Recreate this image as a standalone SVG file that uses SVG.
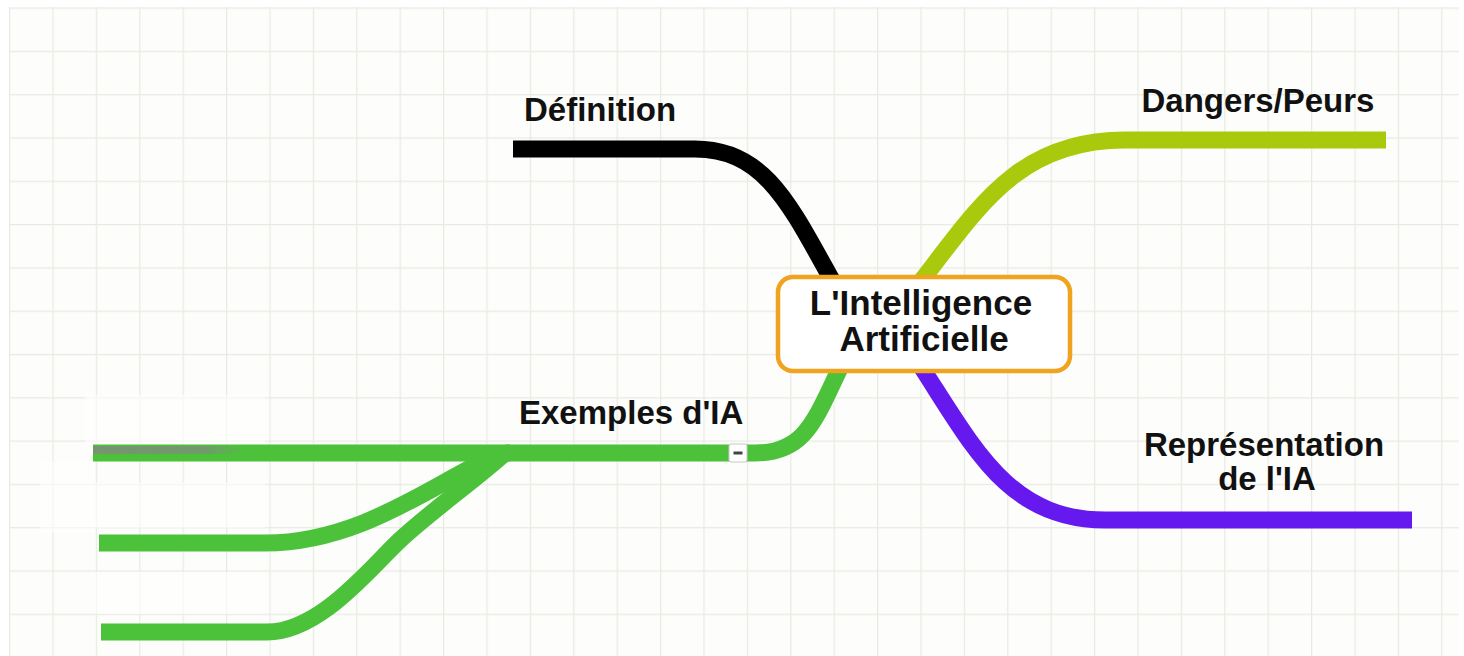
<svg xmlns="http://www.w3.org/2000/svg" width="1464" height="656" viewBox="0 0 1464 656">
  <defs>
    <pattern id="grid" patternUnits="userSpaceOnUse" x="9" y="7.5" width="43.4" height="43.3">
      <rect width="43.4" height="43.3" fill="#fdfdfb"/>
      <path d="M0.6,0 V43.3 M0,0.6 H43.4" stroke="#e8ebe3" stroke-width="1.2" fill="none"/>
    </pattern>
    <linearGradient id="fade" x1="0" y1="0" x2="1" y2="0">
      <stop offset="0" stop-color="#7d8c7a" stop-opacity="0.85"/>
      <stop offset="0.75" stop-color="#7d8c7a" stop-opacity="0.75"/>
      <stop offset="1" stop-color="#7d8c7a" stop-opacity="0"/>
    </linearGradient>
    <style>
      .lbl { font-family: "Liberation Sans", Arial, sans-serif; font-weight: bold; font-size: 33px; fill: #111; }
      .ctr { font-family: "Liberation Sans", Arial, sans-serif; font-weight: bold; font-size: 35px; fill: #111; text-anchor: middle; }
      .br { fill: none; stroke-width: 17; stroke-linecap: butt; stroke-linejoin: round; }
      .green { stroke: #4cc23b; }
    </style>
  </defs>

  <rect x="0" y="0" width="1464" height="656" fill="#ffffff"/>
  <rect x="9" y="7" width="1450" height="649" fill="url(#grid)"/>

  <!-- erased patches on the left -->
  <g fill="#ffffff" opacity="0.6">
    <rect x="85" y="395" width="180" height="50"/>
    <rect x="40" y="462" width="55" height="70"/>
    <rect x="95" y="483" width="170" height="45"/>
    <rect x="95" y="572" width="170" height="42"/>
  </g>

  <g id="connectors">
    <path class="br" stroke="#000000" d="M513,149 L695,149 C765,149 790,205 833,282"/>
    <path class="br" stroke="#a9c90c" d="M922,280 C980,205 1020,140 1125,140 L1386,140"/>
    <path class="br" stroke="#6619ef" d="M922,368 C975,450 1010,520 1105,520 L1412,520"/>
    <path class="br green" d="M840,368 C815,420 805,453 755,453 L505,453"/>
    <path class="br green" stroke-width="15" d="M510,453 L93,453"/>
    <path class="br green" stroke-width="14" d="M505,453 C450,470 370,543 265,543 L99,543"/>
    <path class="br green" stroke-width="14" d="M505,453 C480,476 430,512 400,540 C370,568 320,632 267,632 L101,632"/>
    <rect x="93" y="446" width="150" height="8" fill="url(#fade)"/>
  </g>

  <g id="center">
    <rect x="778" y="277" width="292" height="94" rx="15" ry="15" fill="#ffffff" stroke="#f0a31f" stroke-width="4.5"/>
    <text class="ctr" x="921" y="315">L'Intelligence</text>
    <text class="ctr" x="924" y="350.5">Artificielle</text>
  </g>

  <g id="definition">
    <text class="lbl" x="524" y="121">Définition</text>
  </g>

  <g id="dangers">
    <text class="lbl" x="1258" y="112" text-anchor="middle">Dangers/Peurs</text>
  </g>

  <g id="representation">
    <text class="lbl" x="1264" y="456" text-anchor="middle">Représentation</text>
    <text class="lbl" x="1267" y="490" text-anchor="middle">de l'IA</text>
  </g>

  <g id="exemples">
    <text class="lbl" x="519" y="424">Exemples d'IA</text>
    <rect x="729" y="444" width="18" height="18" rx="2" fill="#ffffff" stroke="#c8c8c8" stroke-width="1"/>
    <rect x="733.5" y="451.5" width="9" height="3" fill="#444"/>
  </g>
</svg>
